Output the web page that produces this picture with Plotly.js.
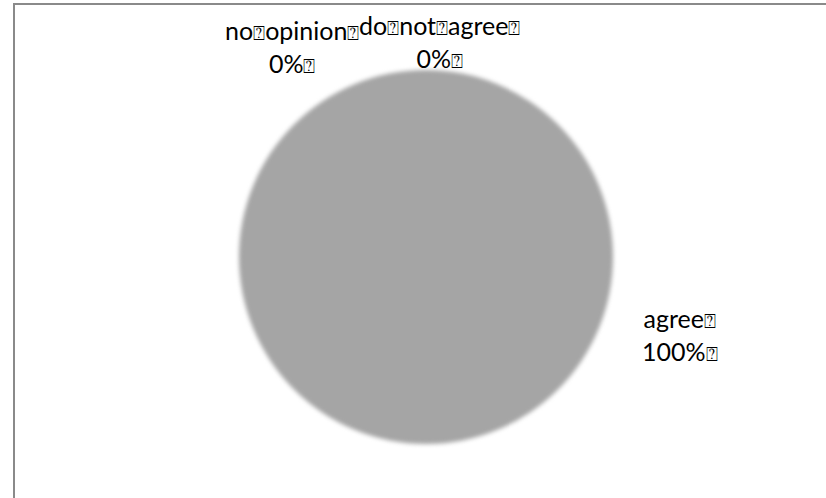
<!DOCTYPE html>
<html>
<head>
<meta charset="utf-8">
<script src="https://cdn.plot.ly/plotly-3.0.1.min.js"></script>
<style>
  html, body { margin: 0; padding: 0; background: #fff; }
  #chart { width: 826px; height: 498px; }
  /* soft edge on the pie surface */
  .pielayer path.surface { filter: blur(2px); }
</style>
</head>
<body>
<div id="chart"></div>
<script>
// Survey answers
const categories = ['agree', 'no opinion', 'do not agree'];
const answerCounts = [100, 0, 0];
const sliceColors = ['#a5a5a5', '#7f7f7f', '#d0d0d0'];

const W = 826, H = 498;
const px = x => x / W;
const py = y => (H - y) / H;

// Word separator / line end glyph used in the labels
const SEP = '<span style="font-size:20px;font-family:DejaVu Sans">\u2370</span>';

const total = answerCounts.reduce((a, b) => a + b, 0);
const labelText = i => {
  const pct = Math.round(answerCounts[i] / total * 100);
  return categories[i].split(' ').join(SEP) + SEP + '<br>' + pct + '%' + SEP;
};

// Label anchor positions (pixels), one per category
const labelPos = [
  { x: 680, y: 334 },
  { x: 292, y: 47 },
  { x: 439, y: 41 }
];

const trace = {
  type: 'pie',
  labels: categories,
  values: answerCounts,
  sort: false,
  direction: 'clockwise',
  textinfo: 'none',
  hoverinfo: 'none',
  marker: { colors: sliceColors, line: { width: 0 } },
  domain: { x: [px(239), px(613)], y: [py(444), py(70)] },
  showlegend: false
};

const layout = {
  width: W,
  height: H,
  margin: { l: 0, r: 0, t: 0, b: 0 },
  paper_bgcolor: '#ffffff',
  font: { family: 'Lato, "Open Sans", sans-serif', size: 25, color: '#000000' },
  shapes: [{
    type: 'rect', xref: 'paper', yref: 'paper',
    x0: px(14), x1: px(840), y0: py(4), y1: py(520),
    line: { color: '#8a8a8a', width: 2 },
    fillcolor: 'rgba(0,0,0,0)'
  }],
  annotations: categories.map((c, i) => ({
    xref: 'paper', yref: 'paper',
    x: px(labelPos[i].x), y: py(labelPos[i].y),
    xanchor: 'center', yanchor: 'middle',
    text: labelText(i),
    showarrow: false,
    align: 'center',
    font: { family: 'Lato, "Open Sans", sans-serif', size: 25, color: '#000000' }
  }))
};

Plotly.newPlot('chart', [trace], layout, { displayModeBar: false, staticPlot: true });
</script>
</body>
</html>
